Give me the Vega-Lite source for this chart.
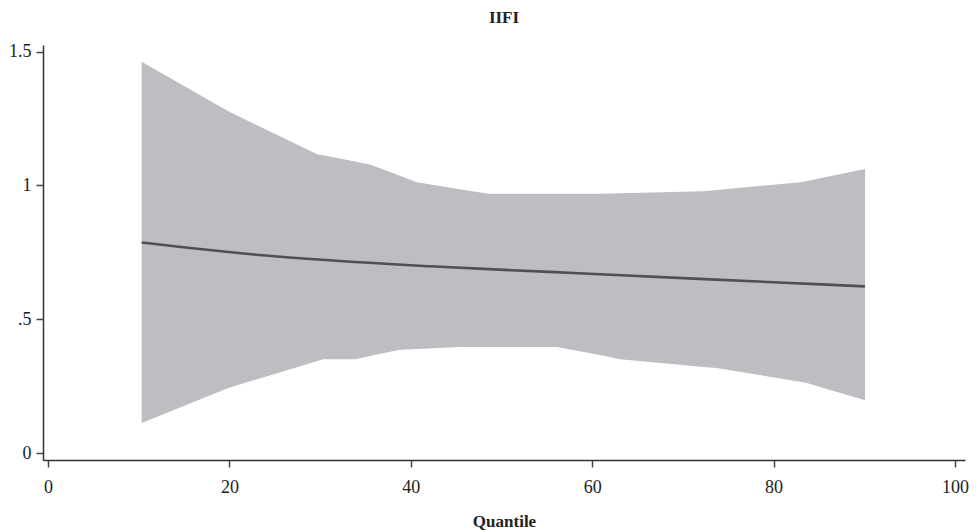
{
  "$schema": "https://vega.github.io/schema/vega-lite/v6.json",
  "autosize": "none",
  "width": 922,
  "height": 415,
  "padding": {"left": 43, "top": 45, "right": 11, "bottom": 72},
  "background": "white",
  "config": {
    "view": {"stroke": null},
    "font": "Liberation Serif",
    "axis": {"grid": false, "labelFont": "Liberation Serif", "titleFont": "Liberation Serif", "labelFontSize": 18, "titleFontSize": 17, "labelColor": "#222", "titleColor": "#222", "tickSize": 7, "tickColor": "#444", "domainColor": "#333", "domainWidth": 1.5, "tickWidth": 1.5}
  },
  "title": {"text": "IIFI", "font": "Liberation Serif", "fontSize": 17, "fontWeight": "bold", "color": "#222", "anchor": "middle", "offset": 16},
  "datasets": {
    "band": [
      {"q": 10.33, "upper": 1.462, "lower": 0.112},
      {"q": 19.88, "upper": 1.277, "lower": 0.243},
      {"q": 29.8, "upper": 1.115, "lower": 0.345},
      {"q": 30.35, "upper": 1.113, "lower": 0.351},
      {"q": 33.85, "upper": 1.09, "lower": 0.351},
      {"q": 35.5, "upper": 1.078, "lower": 0.363},
      {"q": 38.81, "upper": 1.036, "lower": 0.386},
      {"q": 40.65, "upper": 1.012, "lower": 0.389},
      {"q": 45.42, "upper": 0.986, "lower": 0.396},
      {"q": 48.54, "upper": 0.969, "lower": 0.396},
      {"q": 56.09, "upper": 0.969, "lower": 0.396},
      {"q": 60.86, "upper": 0.969, "lower": 0.366},
      {"q": 63.07, "upper": 0.971, "lower": 0.351},
      {"q": 72.25, "upper": 0.978, "lower": 0.322},
      {"q": 73.73, "upper": 0.983, "lower": 0.318},
      {"q": 82.91, "upper": 1.012, "lower": 0.266},
      {"q": 83.65, "upper": 1.017, "lower": 0.262},
      {"q": 90.08, "upper": 1.062, "lower": 0.197}
    ],
    "est": [
      {"q": 10.33, "coef": 0.787},
      {"q": 23.7, "coef": 0.739},
      {"q": 42.1, "coef": 0.698},
      {"q": 55.3, "coef": 0.677},
      {"q": 72.4, "coef": 0.65},
      {"q": 90.08, "coef": 0.623}
    ]
  },
  "layer": [
    {
      "data": {"name": "band"},
      "mark": {"type": "area", "color": "#bdbec2", "opacity": 1},
      "encoding": {
        "x": {"field": "q", "type": "quantitative", "scale": {"domain": [-0.55, 101.1], "nice": false, "zero": false}, "axis": {"values": [0, 20, 40, 60, 80, 100], "title": "Quantile", "titleFontWeight": "bold", "labelPadding": 11, "titlePadding": 17}},
        "y": {"field": "upper", "type": "quantitative", "scale": {"domain": [-0.026, 1.525], "nice": false, "zero": false}, "axis": {"values": [0, 0.5, 1, 1.5], "title": null, "labelExpr": "datum.value == 0.5 ? '.5' : (datum.value == 0 ? '0' : (datum.value == 1 ? '1' : '1.5'))", "labelPadding": 5}},
        "y2": {"field": "lower"}
      }
    },
    {
      "data": {"name": "est"},
      "mark": {"type": "line", "color": "#505052", "strokeWidth": 2.6, "interpolate": "monotone"},
      "encoding": {
        "x": {"field": "q", "type": "quantitative"},
        "y": {"field": "coef", "type": "quantitative"}
      }
    }
  ]
}
